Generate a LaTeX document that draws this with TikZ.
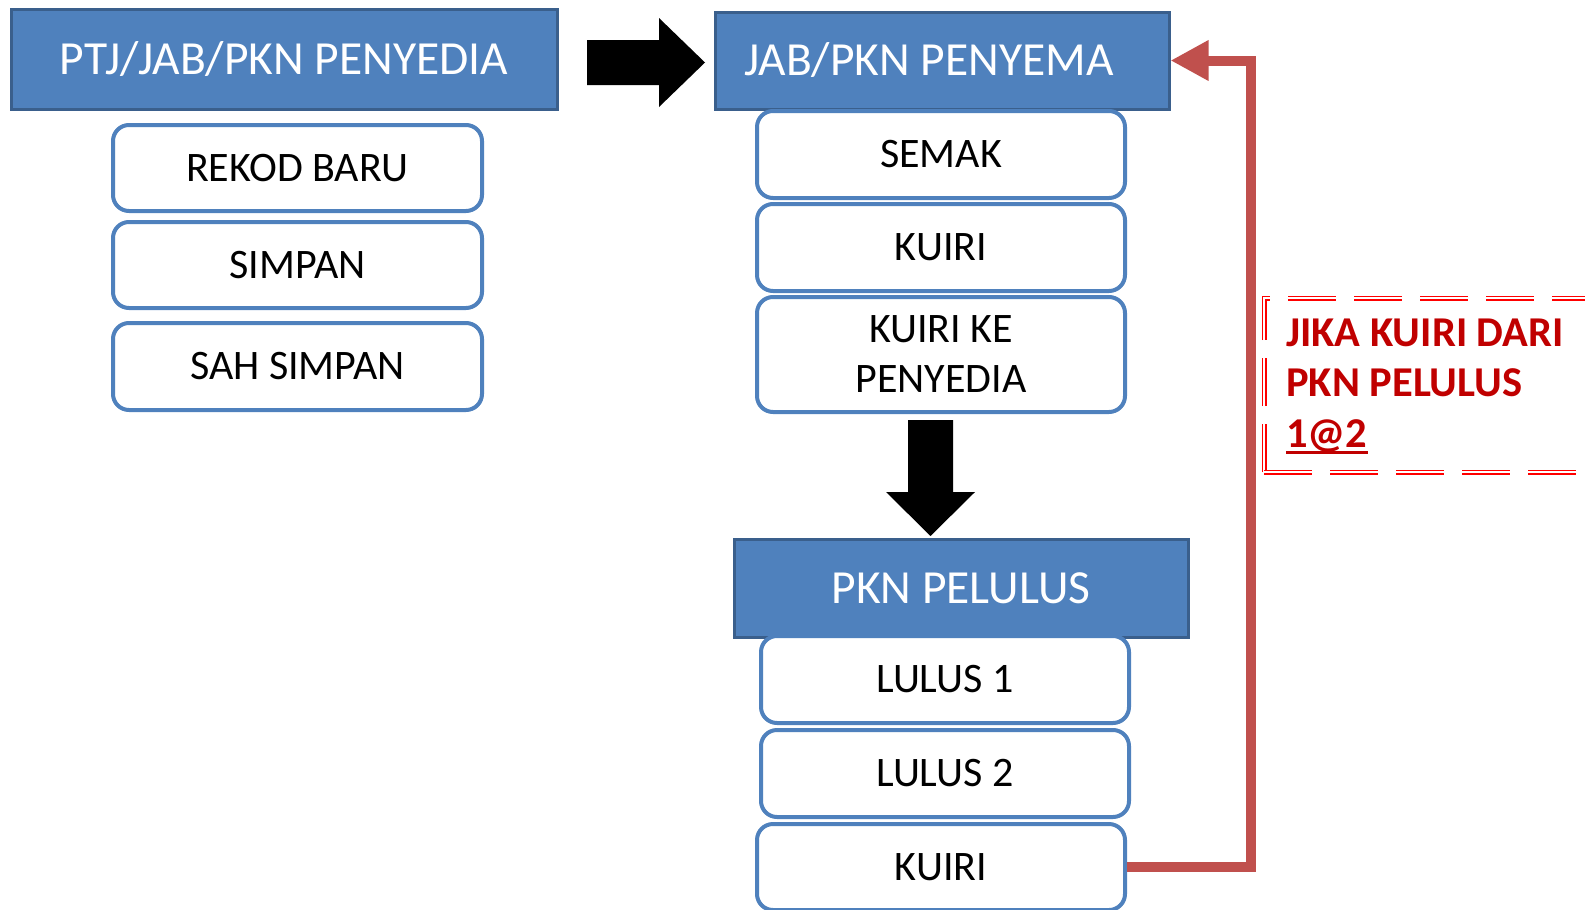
\documentclass[tikz,border=0pt]{standalone}
\usepackage{fontspec}
\setmainfont{Carlito}
\usetikzlibrary{arrows.meta}
\definecolor{hdrfill}{HTML}{4F81BD}
\definecolor{hdrdraw}{HTML}{3A5F8C}
\definecolor{boxdraw}{HTML}{4F81BD}
\definecolor{arrowred}{HTML}{C0504D}
\definecolor{textred}{HTML}{C00000}
\definecolor{dashred}{HTML}{FF0000}
\begin{document}
\begin{tikzpicture}[x=1pt,y=-1pt,
  hdr/.style={draw=hdrdraw, fill=hdrfill, line width=3pt, text=white,
    font=\fontsize{47.5}{57}\selectfont, inner sep=0pt},
  stepbox/.style={draw=boxdraw, fill=white, line width=4pt, rounded corners=16pt,
    font=\fontsize{42}{50}\selectfont, inner sep=0pt, align=center},
  blockarrow/.style={fill=black},
  loopback/.style={draw=arrowred, line width=10pt, line join=miter,
    -{Triangle[length=38pt,width=38pt]}},
  notebox/.style={draw=dashred, line width=1.5pt, double=white, double distance=2pt,
    dash pattern=on 48pt off 18pt},
  notetext/.style={text=textred, font=\fontsize{42.5}{50}\selectfont\bfseries,
    inner sep=0pt, anchor=base west}]
\useasboundingbox (0,0) rectangle (1585,910);

% left column
\node[hdr, minimum width=546pt, minimum height=100pt] (h1) at (284,59) {PTJ/JAB/PKN PENYEDIA};
\node[stepbox, minimum width=369pt, minimum height=86pt] (rekod) at (297.5,168) {REKOD BARU};
\node[stepbox, minimum width=369pt, minimum height=86pt] (simpan) at (297.5,265) {SIMPAN};
\node[stepbox, minimum width=369pt, minimum height=87pt] (sah) at (297.5,366.5) {SAH SIMPAN};

% middle column top
\node[hdr, minimum width=454pt, minimum height=97pt] (h2) at (942,60.5) {JAB/PKN PENYEMA\kern26pt};
\node[stepbox, minimum width=368pt, minimum height=87pt] (semak) at (941,154.5) {SEMAK};
\node[stepbox, minimum width=368pt, minimum height=87pt] (kuiri) at (941,247.5) {KUIRI};
\node[stepbox, minimum width=368pt, minimum height=115pt] (kkp) at (941,354.5) {KUIRI KE\\PENYEDIA};

% middle column bottom
\node[hdr, minimum width=454pt, minimum height=98pt] (h3) at (961,588) {PKN PELULUS};
\node[stepbox, minimum width=368pt, minimum height=87pt] (lulus1) at (945,679.5) {LULUS 1};
\node[stepbox, minimum width=368pt, minimum height=87pt] (lulus2) at (945,773.5) {LULUS 2};
\node[stepbox, minimum width=368pt, minimum height=86pt] (kuiri2) at (941,867) {KUIRI};

% block arrows
\fill[blockarrow] (587,40) -- (659,40) -- (659,18) -- (705,62.5) -- (659,107)
  -- (659,85) -- (587,85) -- cycle;
\fill[blockarrow] (908,420) -- (953,420) -- (953,492) -- (975,492) -- (930.5,536)
  -- (886,492) -- (908,492) -- cycle;

% loop-back connector
\draw[loopback] (kuiri2.east) -- ++(124,0) |- (h2.east);

% note
\draw[notebox] (1264,472) -- (1264,298) -- (1600,298);
\draw[notebox] (1264,472) -- (1600,472);
\node[notetext] (t1) at (1286,346) {JIKA KUIRI DARI};
\node[notetext] (t2) at (1286,396) {PKN PELULUS};
\node[notetext] (t3) at (1286,447) {1@2};
\draw[textred, line width=3pt] ([yshift=-5pt]t3.base west) -- ([yshift=-5pt]t3.base east);
\end{tikzpicture}
\end{document}
